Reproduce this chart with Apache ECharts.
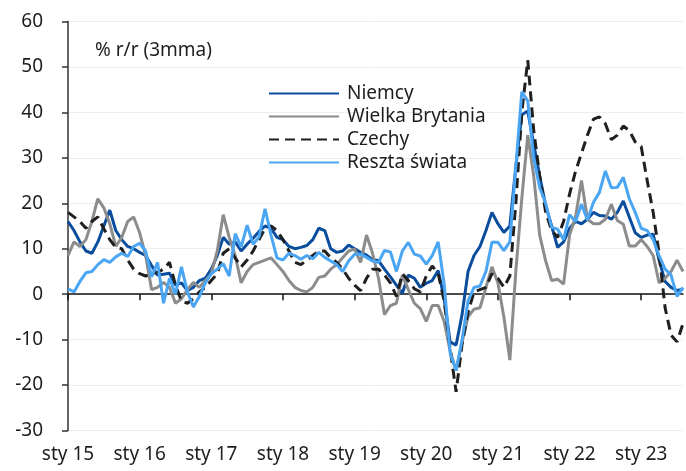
<!DOCTYPE html>
<html>
<head>
<meta charset="utf-8">
<title>Eksport r/r</title>
<script src="https://cdn.jsdelivr.net/npm/echarts@6/dist/echarts.min.js"></script>
<style>
    html, body { margin: 0; padding: 0; background: #fff; }
    #chart { width: 686px; height: 471px; }
</style>
</head>
<body>
<div id="chart"></div>
<script>
// months sty 15 .. sie 23, % r/r (3mma)
var months = ['sty', 'lut', 'mar', 'kwi', 'maj', 'cze', 'lip', 'sie', 'wrz', 'paź', 'lis', 'gru'];
var years = ['15', '16', '17', '18', '19', '20', '21', '22', '23'];

var niemcy = [
    16, 14, 11.5, 9.5, 9, 11.5, 15, 18.5, 14, 12, 10.5, 10,
    9.2, 8.5, 6.3, 4.2, 4.4, 4.6, 2, 2.5, 0.8, 1.5, 3, 3.5,
    5.5, 8.5, 12.5, 11, 11.5, 9.5, 11, 12.3, 13.8, 15, 14.5, 12.5,
    12, 10.5, 10, 10.3, 10.7, 12, 14.5, 14, 10, 9.2, 9.5, 10.8,
    10, 9.2, 8.6, 7.6, 7.4, 5.5, 3.8, 2, 0.2, 4.2, 3.5, 1.5,
    2.4, 3, 5.2, -1, -10.5, -11.2, -4.5, 5, 8.5, 10.5, 14, 18,
    15.5, 13.6, 15, 28, 39.5, 40.3, 33, 26, 19.5, 15, 10.3, 11.5,
    14.5, 16, 15.5, 16.5, 18, 17.3, 17.2, 16.5, 18, 20.5, 17, 13.5,
    12.5, 13, 13.2, 7.5, 2.8, 1.5, 0.8, 1.1
];
var wielkaBrytania = [
    8.5, 11.5, 10.5, 12, 16, 21, 19, 15.5, 10.5, 12.5, 16, 17,
    13.5, 8.5, 1, 1.5, 2.6, 1.5, -2, -1, 1, 2.6, 1.5, 3,
    4.5, 9.5, 17.5, 12.5, 8.5, 2.5, 5, 6.5, 7, 7.5, 8, 6.5,
    5, 3, 1.5, 0.8, 0.5, 1.5, 3.7, 4, 5.5, 6.5, 8, 9.5,
    9.9, 7, 13, 9, 3.5, -4.5, -2.5, -2, 4.2, 1, -2, -3.2,
    -6, -2.5, -2.5, -6, -12.5, -16.8, -10.5, -5, -3.3, -3, 1.5, 6,
    2.5, -5, -14.5, 5, 21, 35, 26, 13, 7.3, 3, 3.3, 2.2,
    13, 17, 25, 16.5, 15.5, 15.5, 16.5, 19.8, 16.2, 15.4, 10.6, 10.6,
    12, 10.5, 8.5, 2.5, 3.5, 5, 7.5, 5
];
var czechy = [
    18, 17, 16, 14.5, 16, 17, 14.4, 12, 10.3, 10, 7.5, 5.5,
    4.5, 4, 4.5, 4.8, 5.5, 7, 2, -1.5, -2, -1, 0.5, 1.5,
    3, 4.5, 9, 10, 8, 6, 7.5, 9.5, 12, 14.5, 15, 14,
    12, 9.5, 7, 6.5, 7.5, 8.5, 9.5, 9.5, 8, 7, 5.5, 3.5,
    2, 0.8, 3.5, 5.5, 5.5, 4.2, 2.5, -0.5, 4.5, 3, 1.2, 0.5,
    4, 6.2, 4.5, -1.5, -12, -21.5, -11, -4, 0.5, 1, 1.5, 4.5,
    3.5, 1.5, 4, 20, 40, 51.5, 36, 26, 18, 14, 12.5, 16,
    22, 27, 31, 35, 38.5, 39, 37.5, 34, 35, 37, 36, 33.5,
    32.5, 25, 18, 9, -3, -9, -10.5, -6.5
];
var resztaSwiata = [
    1.2, 0.5, 2.8, 4.7, 5, 6.5, 7.6, 7, 8.2, 9, 8.3, 10.5,
    11.2, 9.5, 3.8, 7, -2, 3.5, 0, 6, 0.5, -2.8, -0.5, 2.5,
    4.5, 5.5, 6.7, 4, 13.3, 10.4, 15.2, 11, 12.6, 18.8, 13, 8,
    7.5, 9, 8.5, 7.7, 8.5, 7.8, 9.2, 8.1, 7.3, 6.5, 5, 7.3,
    8.8, 8.8, 8.1, 7.3, 7, 9.6, 9.3, 5, 9.5, 11.4, 8.8, 8.4,
    6.6, 8.5, 11.5, 2.2, -13, -16.8, -10, -1.5, 1.5, 1.8, 5, 11.4,
    11.4, 9.6, 11.5, 28, 44.5, 42.5, 30, 23.4, 20, 14.7, 14.3, 12,
    17.5, 16, 19.8, 16.3, 20.2, 22.4, 27.1, 23.4, 23.5, 25.7, 21, 18,
    14.5, 14, 12, 8.5, 5.5, 4.2, -0.5, 1.5
];

var categories = [];
years.forEach(function (y) {
    months.forEach(function (m) {
        if (categories.length < niemcy.length) categories.push(m + ' ' + y);
    });
});

var font = 'Noto Sans';
var txt = '#1e1e1e';

var chart = echarts.init(document.getElementById('chart'));

function lineSeries(name, data, color, dash) {
    return {
        name: name,
        type: 'line',
        data: data,
        symbol: 'none',
        showSymbol: false,
        lineStyle: { color: color, width: 3, type: dash || 'solid' },
        itemStyle: { color: color }
    };
}

chart.setOption({
    animation: false,
    textStyle: { fontFamily: font },
    title: {
        text: '% r/r (3mma)',
        left: 95,
        top: 41,
        padding: 0,
        textStyle: { fontFamily: font, fontSize: 19, fontWeight: 'normal', color: txt }
    },
    legend: {
        orient: 'vertical',
        left: 268,
        top: 84,
        padding: 0,
        itemWidth: 70,
        itemHeight: 10,
        itemGap: 4,
        // only the line in the icon, no marker
        itemStyle: { opacity: 0 },
        textStyle: { fontFamily: font, fontSize: 19, lineHeight: 19, color: txt, padding: [0, 0, 0, 3] },
        data: ['Niemcy', 'Wielka Brytania', 'Czechy', 'Reszta świata']
    },
    grid: { left: 68, right: 3, top: 21.5, bottom: 40.5 },
    xAxis: [
        {
            type: 'category',
            data: categories,
            boundaryGap: false,
            position: 'bottom',
            axisLine: { show: false, onZero: false },
            axisTick: { show: false },
            splitLine: { show: false },
            axisLabel: { interval: 11, margin: 15, fontFamily: font, fontSize: 19, color: txt }
        },
        {
            type: 'category',
            data: categories,
            boundaryGap: false,
            position: 'top',
            axisLine: { show: true, onZero: true, lineStyle: { color: '#111', width: 1.5 } },
            axisTick: { show: true, interval: 11, inside: true, length: 6, lineStyle: { color: '#111', width: 1.5 } },
            axisLabel: { show: false },
            splitLine: { show: false }
        }
    ],
    yAxis: {
        type: 'value',
        min: -30,
        max: 60,
        interval: 10,
        axisLine: { show: true, lineStyle: { color: '#333', width: 1.5 } },
        axisTick: { show: true, length: 6, lineStyle: { color: '#333', width: 1.5 } },
        axisLabel: { margin: 25, fontFamily: font, fontSize: 19, color: txt },
        splitLine: { show: true, lineStyle: { color: '#eeeeee', width: 1 } }
    },
    series: [
        lineSeries('Niemcy', niemcy, '#0a4d9c'),
        lineSeries('Wielka Brytania', wielkaBrytania, '#8c8c8c'),
        lineSeries('Czechy', czechy, '#1f1f1f', [10, 6]),
        lineSeries('Reszta świata', resztaSwiata, '#4aa5f2')
    ]
});
</script>
</body>
</html>
